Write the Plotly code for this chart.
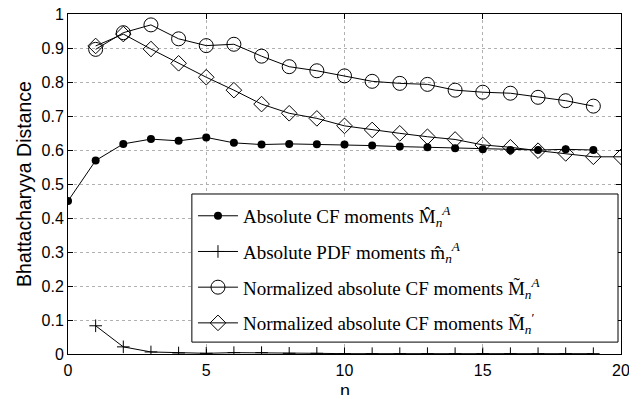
import plotly.graph_objects as go

n_cf = list(range(0, 20))
cf_abs = [0.450, 0.569, 0.618, 0.632, 0.627, 0.637, 0.621, 0.616, 0.618, 0.617,
          0.616, 0.613, 0.610, 0.608, 0.605, 0.602, 0.600, 0.600, 0.602, 0.600]

n_pdf = list(range(1, 20))
pdf_abs = [0.083, 0.021, 0.006, 0.003, 0.002, 0.004, 0.004, 0.002, 0.002, 0.001,
           0.001, 0.001, 0.001, 0.001, 0.001, 0.001, 0.001, 0.001, 0.001]

n_norm = list(range(1, 20))
norm_a = [0.896, 0.945, 0.968, 0.927, 0.907, 0.911, 0.876, 0.845, 0.833, 0.818,
          0.802, 0.796, 0.793, 0.776, 0.770, 0.767, 0.755, 0.745, 0.729]

n_prime = list(range(1, 21))
norm_p = [0.906, 0.941, 0.897, 0.855, 0.814, 0.776, 0.735, 0.708, 0.693, 0.671,
          0.659, 0.649, 0.639, 0.631, 0.615, 0.608, 0.598, 0.590, 0.580, 0.580]

labels = [
    "Absolute CF moments M\u0302<sub><i>n</i></sub><sup><i>A</i></sup>",
    "Absolute PDF moments m\u0302<sub><i>n</i></sub><sup><i>A</i></sup>",
    "Normalized absolute CF moments M\u0303<sub><i>n</i></sub><sup><i>A</i></sup>",
    "Normalized absolute CF moments M\u0303<sub><i>n</i></sub><sup>\u2032</sup>",
]

fig = go.Figure()
line = dict(color="black", width=1)
fig.add_trace(go.Scatter(x=n_cf, y=cf_abs, mode="lines+markers", name=labels[0], line=line,
                         legendgroup="a",
                         marker=dict(symbol="circle", size=8, color="black")))
fig.add_trace(go.Scatter(x=n_pdf, y=pdf_abs, mode="lines+markers", name=labels[1], line=line,
                         legendgroup="b",
                         marker=dict(symbol="cross-thin-open", size=9, color="black",
                                     line=dict(color="black", width=1))))
fig.add_trace(go.Scatter(x=n_norm, y=norm_a, mode="lines+markers", name=labels[2], line=line,
                         legendgroup="c",
                         marker=dict(symbol="circle-open", size=14, color="black",
                                     line=dict(color="black", width=1))))
fig.add_trace(go.Scatter(x=n_prime, y=norm_p, mode="lines+markers", name=labels[3], line=line,
                         legendgroup="d",
                         marker=dict(symbol="diamond-open", size=12, color="black",
                                     line=dict(color="black", width=1))))

axis_common = dict(
    showline=True, linecolor="black", linewidth=1, mirror="ticks",
    ticks="inside", ticklen=5, tickcolor="black",
    showgrid=True, gridcolor="#b0b0b0", griddash="dot", gridwidth=1,
    zeroline=False, automargin=False, ticklabeloverflow="allow",
    tickfont=dict(family="Liberation Sans, Arial", size=16, color="black"),
)

fig.update_xaxes(range=[0, 20], tickvals=[0, 5, 10, 15, 20],
                 ticklabelstandoff=2,
                 **axis_common)
fig.update_yaxes(range=[0, 1], tickvals=[i / 10 for i in range(11)],
                 ticktext=["0", "0.1", "0.2", "0.3", "0.4", "0.5", "0.6", "0.7", "0.8", "0.9", "1"],
                 title=dict(text="Bhattacharyya Distance",
                            font=dict(family="Liberation Sans, Arial", size=19.5, color="black"),
                            standoff=4),
                 **axis_common)

# x-axis title placed below the tick labels
fig.add_annotation(text="n", xref="paper", yref="paper", x=0.5, y=-0.108,
                   xanchor="center", yanchor="middle", showarrow=False,
                   font=dict(family="Liberation Sans, Arial", size=18, color="black"))

# legend frame (MATLAB-style wide box) drawn behind the legend entries
fig.add_shape(type="rect", xref="paper", yref="paper",
              x0=0.224, x1=0.9946, y0=0.035, y1=0.4706,
              fillcolor="white", line=dict(color="black", width=1), layer="above")

fig.update_layout(
    width=629, height=395,
    margin=dict(l=68, r=8, t=14, b=41),
    plot_bgcolor="white", paper_bgcolor="white",
    legend=dict(x=0.226, y=0.462, xanchor="left", yanchor="top",
                bgcolor="rgba(0,0,0,0)", borderwidth=0,
                font=dict(family="Liberation Serif, DejaVu Serif", size=19, color="black"),
                tracegroupgap=8, itemwidth=40),
)

fig.write_html("out.html")
